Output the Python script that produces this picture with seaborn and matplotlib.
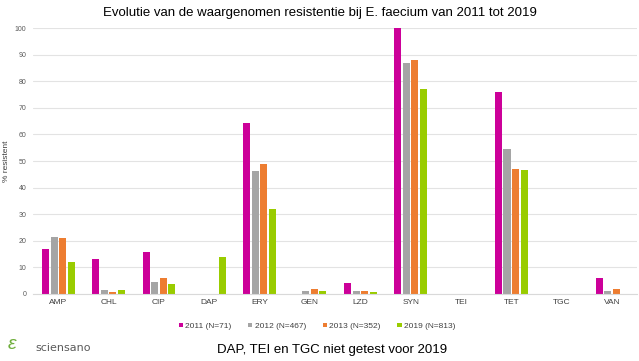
import matplotlib
matplotlib.use("Agg")
import matplotlib.pyplot as plt
import seaborn as sns
import numpy as np
import pandas as pd

antibiotics = ["AMP", "CHL", "CIP", "DAP", "ERY", "GEN", "LZD", "SYN", "TEI", "TET", "TGC", "VAN"]
years = ["2011 (N=71)", "2012 (N=467)", "2013 (N=352)", "2019 (N=813)"]
colors = ["#CC0099", "#A5A5A5", "#ED7D31", "#99CC00"]

# NaN = not tested
r2011 = [17.0, 13.0, 15.7, np.nan, 64.3, 0.0, 4.2, 100.0, np.nan, 75.8, np.nan, 5.8]
r2012 = [21.3, 1.5, 4.3, np.nan, 46.3, 1.0, 1.0, 87.0, np.nan, 54.5, np.nan, 1.2]
r2013 = [21.0, 0.8, 5.8, np.nan, 48.8, 1.8, 0.9, 88.0, np.nan, 47.0, np.nan, 1.8]
r2019 = [12.0, 1.5, 3.7, 13.8, 32.0, 0.9, 0.7, 77.0, np.nan, 46.7, np.nan, 0.0]

rows = []
for yr, vals in zip(years, [r2011, r2012, r2013, r2019]):
    for ab, v in zip(antibiotics, vals):
        rows.append({"ab": ab, "jaar": yr, "pct": v})
df = pd.DataFrame(rows)

sns.set_style("white")
plt.rcParams["font.family"] = ["Liberation Sans", "DejaVu Sans"]

fig = plt.figure(figsize=(6.39, 3.61), dpi=100)
ax = fig.add_axes([0.052, 0.186, 0.945, 0.736])

sns.barplot(data=df, x="ab", y="pct", hue="jaar", order=antibiotics,
            hue_order=years, palette=colors, width=0.68, gap=0.18,
            saturation=1, linewidth=0, ax=ax, legend=True)

ax.set_ylim(0, 100)
ax.set_xlim(-0.5, len(antibiotics) - 0.5)
ax.set_yticks(range(0, 101, 10))
ax.yaxis.grid(True, color="#E3E3E3", linewidth=0.8)
ax.set_axisbelow(True)
for s in ["top", "right", "left"]:
    ax.spines[s].set_visible(False)
ax.spines["bottom"].set_color("#D9D9D9")
ax.tick_params(axis="y", labelsize=5, colors="#595959", length=0, pad=5)
ax.tick_params(axis="x", labelsize=6, colors="#404040", length=0, pad=4)
ax.set_xlabel("")
ax.set_ylabel("% resistent", fontsize=6, color="#404040", labelpad=3)

ax.legend(loc="upper center", bbox_to_anchor=(0.47, -0.08), ncol=4,
          frameon=False, fontsize=6, handlelength=0.5, handleheight=0.5,
          handletextpad=0.3, columnspacing=2.0, labelcolor="#404040")

fig.text(0.5, 0.965, "Evolutie van de waargenomen resistentie bij E. faecium van 2011 tot 2019",
         ha="center", va="center", fontsize=9.5, color="#000000")
fig.text(0.52, 0.03, "DAP, TEI en TGC niet getest voor 2019",
         ha="center", va="center", fontsize=9.5, color="#000000")
fig.text(0.055, 0.035, "sciensano", ha="left", va="center", fontsize=8,
         color="#5a5a5a", family=["DejaVu Sans"])
fig.text(0.012, 0.045, "\u03b5", ha="left", va="center", fontsize=14,
         color="#6FAE3C", style="italic")

fig.savefig("out.png", dpi=100)
